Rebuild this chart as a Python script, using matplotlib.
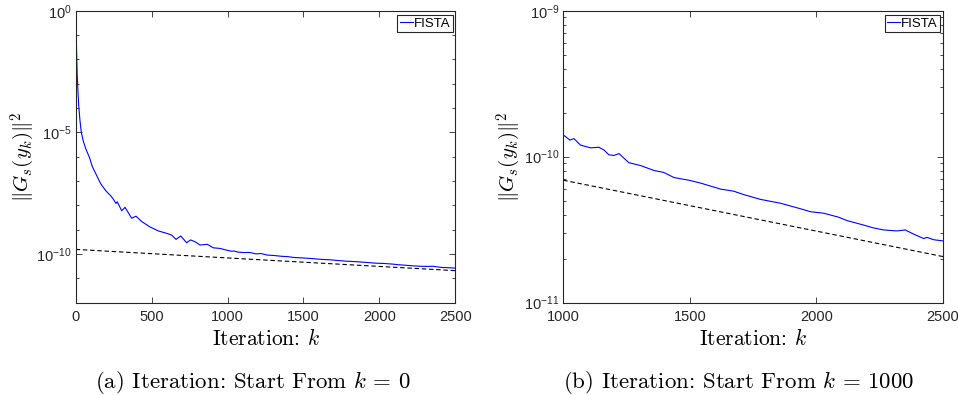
import matplotlib
matplotlib.use("Agg")
import matplotlib.pyplot as plt
import numpy as np
from matplotlib.ticker import FixedLocator, FixedFormatter, NullFormatter

plt.rcParams['font.family'] = ['Liberation Sans', 'DejaVu Sans']
plt.rcParams['mathtext.fontset'] = 'custom'
plt.rcParams['mathtext.rm'] = 'Liberation Sans'
plt.rcParams['mathtext.it'] = 'Liberation Sans:italic'
plt.rcParams['mathtext.bf'] = 'Liberation Sans:bold'

# ---- data ----
iters = [0, 3, 7, 10, 15, 20, 28, 37, 50, 68, 92, 109, 125, 147, 164, 198, 230,
         248, 265, 274, 303, 325, 369, 397,
         435, 489, 544, 599, 632, 661, 692, 731, 757, 786, 819, 867, 906, 950,
         1000, 1026, 1042, 1068, 1108, 1141, 1161, 1180, 1200, 1220, 1259, 1305,
         1358, 1397, 1437, 1496, 1542, 1621, 1674, 1713, 1779, 1858, 1937, 1976,
         2029, 2088, 2121, 2187, 2226, 2266, 2318, 2351, 2384, 2424, 2437, 2463,
         2500]
fista = [1.0, 1.6e-1, 1.15e-2, 2.3e-3, 4.9e-4, 1.26e-4, 3.2e-5, 1.0e-5, 4.4e-6,
         2.0e-6, 8.9e-7, 4.0e-7, 2.5e-7, 1.3e-7, 7.9e-8, 4.0e-8, 2.5e-8,
         1.8e-8, 1.2e-8, 1.4e-8, 6.0e-9, 8.3e-9, 2.95e-9, 3.6e-9,
         2.15e-9, 1.3e-9, 8.9e-10, 7.1e-10, 6.0e-10, 4.0e-10, 5.5e-10, 2.9e-10,
         3.8e-10, 3.2e-10, 2.35e-10, 2.5e-10, 1.8e-10, 1.7e-10,
         1.41e-10, 1.30e-10, 1.33e-10, 1.20e-10, 1.15e-10, 1.16e-10, 1.11e-10,
         1.03e-10, 1.02e-10, 1.05e-10, 9.1e-11, 8.7e-11,
         8.05e-11, 7.8e-11, 7.2e-11, 6.9e-11, 6.6e-11, 6.0e-11, 5.8e-11, 5.5e-11,
         5.1e-11, 4.8e-11, 4.4e-11, 4.2e-11,
         4.1e-11, 3.85e-11, 3.65e-11, 3.4e-11, 3.25e-11, 3.15e-11, 3.1e-11,
         3.15e-11, 2.95e-11, 2.75e-11, 2.8e-11, 2.7e-11,
         2.65e-11]
ref_iters = [0, 1000, 2500]
ref_vals = [1.55e-10, 6.9e-11, 2.07e-11]

legend_label = "FISTA"
ylabel = r"$\|G_s(y_k)\|^2$"
xlabel = "Iteration: $k$"
captions = [r"(a) Iteration: Start From $k\,=\,0$", r"(b) Iteration: Start From $k\,=\,1000$"]

left_xticks = [0, 500, 1000, 1500, 2000, 2500]
right_xticks = [1000, 1500, 2000, 2500]
left_ymajor = [1e-10, 1e-5, 1e0]
left_ylabels = [r"$10^{-10}$", r"$10^{-5}$", r"$10^{0}$"]
right_ymajor = [1e-11, 1e-10, 1e-9]
right_ylabels = [r"$10^{-11}$", r"$10^{-10}$", r"$10^{-9}$"]

iters_a = np.array(iters)
fista_a = np.array(fista)
ref_ia = np.array(ref_iters)
ref_va = np.array(ref_vals)

axc = (0.15, 0.15, 0.15)

fig = plt.figure(figsize=(9.58, 3.95), dpi=100)
ax1 = fig.add_axes([0.0790, 0.2337, 0.3963, 0.7392])
ax2 = fig.add_axes([0.5880, 0.2337, 0.3963, 0.7392])


def style(ax):
    for s in ax.spines.values():
        s.set_color(axc)
        s.set_linewidth(0.8)
    ax.tick_params(which='both', direction='in', top=True, right=True,
                   colors=axc, labelsize=10.5, width=0.6)
    ax.tick_params(which='major', length=4)
    ax.tick_params(which='minor', length=2.5)
    ax.tick_params(axis='x', pad=5.5)
    ax.tick_params(axis='y', pad=3)


# left panel
ax1.plot(iters_a, fista_a, color=(0, 0, 1), lw=0.8, label=legend_label)
ax1.plot(ref_ia, ref_va, color='black', lw=0.8, dashes=(4, 2.5))
ax1.set_yscale('log')
ax1.set_xlim(0, 2500)
ax1.set_ylim(1e-12, 1e0)
ax1.xaxis.set_major_locator(FixedLocator(left_xticks))
ax1.yaxis.set_major_locator(FixedLocator(left_ymajor))
ax1.yaxis.set_major_formatter(FixedFormatter(left_ylabels))
ax1.yaxis.set_minor_locator(FixedLocator([10.0 ** e for e in range(-12, 1)]))
ax1.yaxis.set_minor_formatter(NullFormatter())
style(ax1)

# right panel
mask = iters_a >= 1000
rmask = ref_ia >= 1000
ax2.plot(iters_a[mask], fista_a[mask], color=(0, 0, 1), lw=0.8, label=legend_label)
ax2.plot(ref_ia[rmask], ref_va[rmask], color='black', lw=0.8, dashes=(4, 2.5))
ax2.set_yscale('log')
ax2.set_xlim(1000, 2500)
ax2.set_ylim(1e-11, 1e-9)
ax2.xaxis.set_major_locator(FixedLocator(right_xticks))
ax2.yaxis.set_major_locator(FixedLocator(right_ymajor))
ax2.yaxis.set_major_formatter(FixedFormatter(right_ylabels))
ax2.yaxis.set_minor_locator(FixedLocator([m * 10.0 ** e for e in (-11, -10) for m in range(2, 10)]))
ax2.yaxis.set_minor_formatter(NullFormatter())
style(ax2)

for ax, ylx in ((ax1, -0.139), (ax2, -0.143)):
    ax.set_xlabel(xlabel, fontsize=15.5, fontfamily='cmr10', math_fontfamily='cm')
    ax.xaxis.label.set_va('baseline')
    ax.xaxis.set_label_coords(0.5, -0.1438)
    ax.set_ylabel(ylabel, fontsize=15, math_fontfamily='cm')
    ax.yaxis.label.set_va('center')
    ax.yaxis.set_label_coords(ylx, 0.5)
    leg = ax.legend(loc='upper right', bbox_to_anchor=(0.993, 0.986), borderaxespad=0,
                    fontsize=9.5, handlelength=1.0, handletextpad=0.05, borderpad=0.2,
                    fancybox=False, framealpha=1, edgecolor=axc)
    leg.get_frame().set_linewidth(0.8)

fig.text(252.5 / 958, 1 - 388 / 395, captions[0], fontsize=16.5, fontfamily='cmr10',
         math_fontfamily='cm', ha='center', va='baseline')
fig.text(739 / 958, 1 - 388 / 395, captions[1], fontsize=16.5, fontfamily='cmr10',
         math_fontfamily='cm', ha='center', va='baseline')

fig.savefig("out.png", dpi=100)
